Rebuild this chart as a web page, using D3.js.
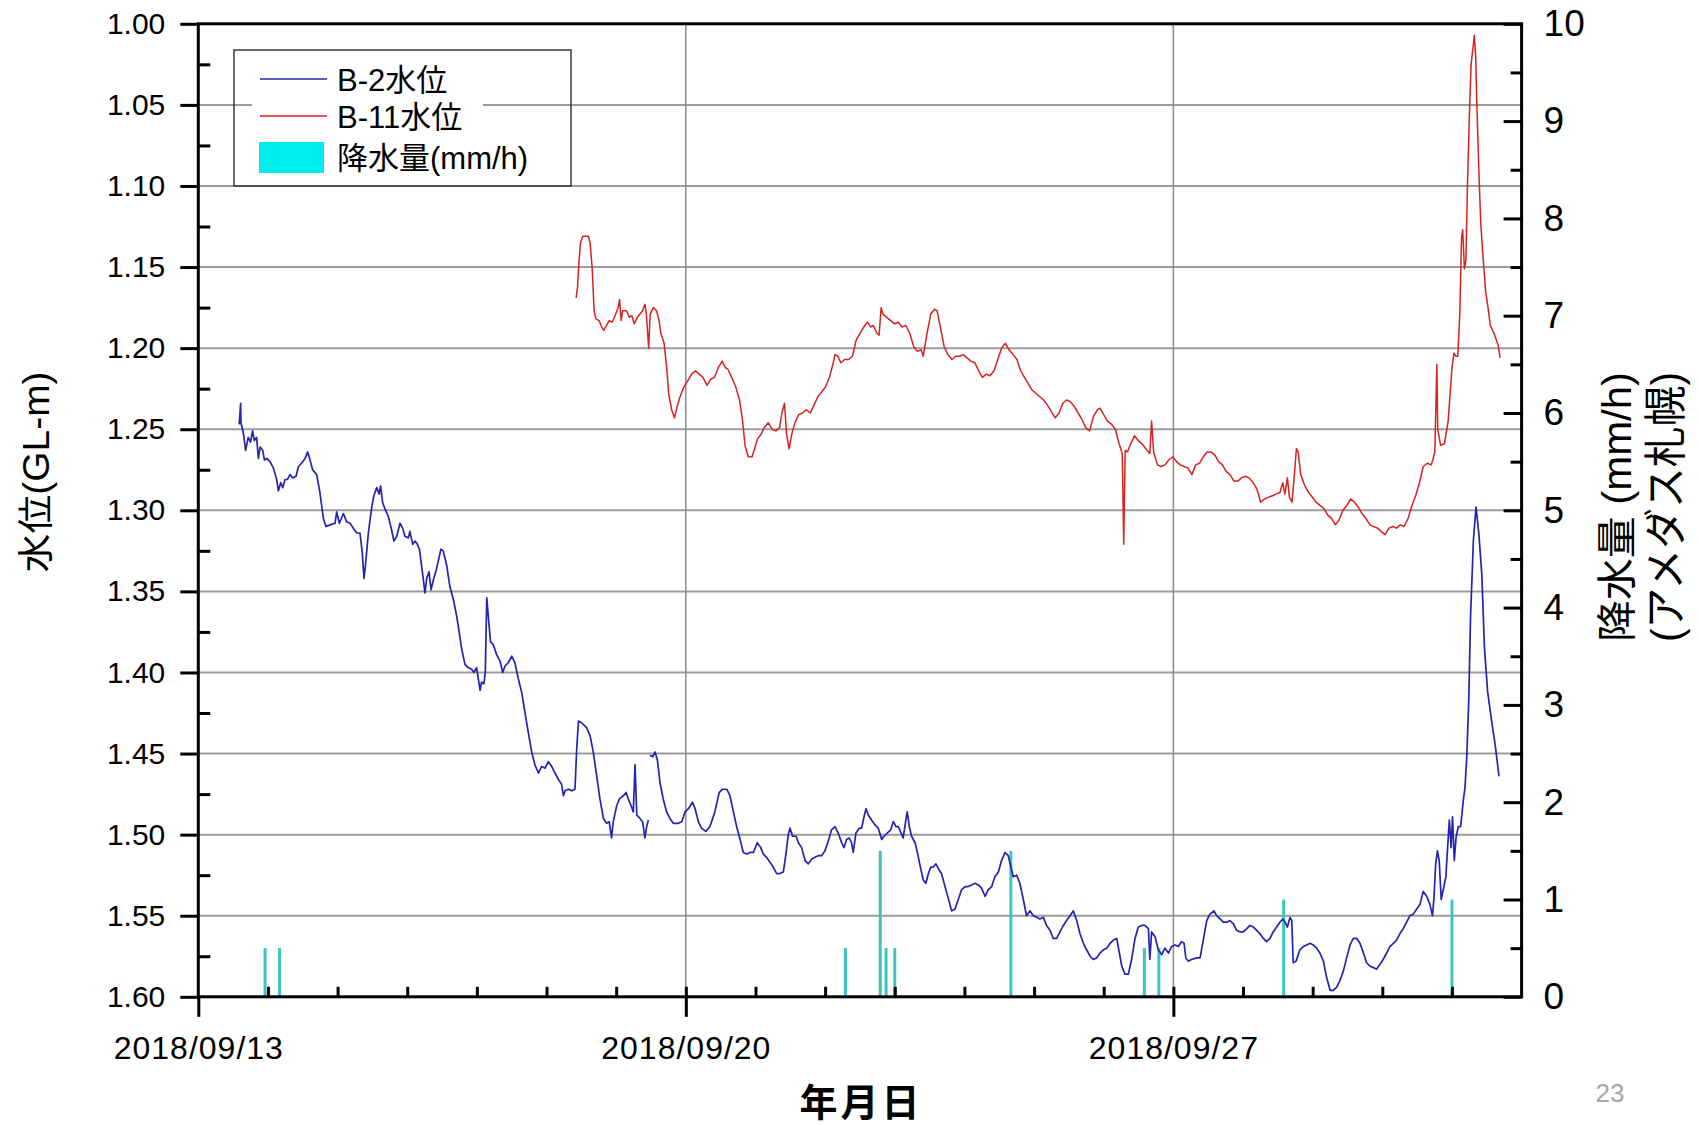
<!DOCTYPE html>
<html>
<head>
<meta charset="utf-8">
<script src="https://cdn.jsdelivr.net/npm/d3@7"></script>
<style>
  html, body { margin: 0; padding: 0; background: #fff; }
  svg { display: block; }
  text { font-family: "Liberation Sans", Arial, "Noto Sans CJK JP", sans-serif; }
</style>
</head>
<body>
<svg id="chart" width="1699" height="1125"></svg>
<script>
// ---- data ----------------------------------------------------------------
const levelTicks = [1.00, 1.05, 1.10, 1.15, 1.20, 1.25, 1.30, 1.35, 1.40, 1.45, 1.50, 1.55, 1.60];
const rainTicks = [0, 1, 2, 3, 4, 5, 6, 7, 8, 9, 10];
const dateTicks = ["2018-09-13", "2018-09-20", "2018-09-27"];
const seriesNames = ["B-2水位", "B-11水位", "降水量(mm/h)"];

// [hours since 2018-09-13 00:00, water level GL-m]; null marks a logging gap
const b2Readings = [
  [14.1,1.247],[14.6,1.234],[14.7,1.246],[15.5,1.252],[16.3,1.263],[17.2,1.255],[18.0,1.258],[18.7,1.251],
  [19.3,1.257],[20.1,1.255],[20.7,1.268],[21.3,1.261],[22.2,1.263],[22.8,1.269],[23.6,1.268],[24.7,1.270],
  [25.9,1.274],[27.0,1.281],[27.6,1.288],[28.4,1.283],[29.1,1.286],[29.9,1.281],[30.7,1.281],[31.6,1.278],
  [32.5,1.280],[33.7,1.279],[34.5,1.273],[35.6,1.271],[36.8,1.268],[37.7,1.264],[38.5,1.269],[39.4,1.275],
  [40.8,1.278],[41.9,1.289],[43.1,1.305],[44.0,1.310],[45.4,1.309],[47.1,1.308],[47.7,1.301],[48.6,1.308],
  [50.0,1.302],[51.1,1.307],[52.3,1.308],[53.4,1.311],[54.6,1.314],[55.7,1.314],[56.5,1.326],[57.1,1.342],
  [57.6,1.334],[58.6,1.314],[59.7,1.299],[60.5,1.291],[61.5,1.286],[62.3,1.290],[62.8,1.285],[63.5,1.295],
  [64.3,1.299],[65.5,1.304],[66.6,1.312],[67.4,1.319],[68.4,1.316],[69.5,1.308],[70.4,1.311],[71.2,1.316],
  [72.4,1.317],[72.9,1.313],[73.9,1.321],[74.7,1.319],[75.5,1.321],[76.2,1.324],[77.0,1.335],[77.5,1.342],
  [78.1,1.351],[78.7,1.342],[79.5,1.338],[80.2,1.349],[81.0,1.343],[82.1,1.336],[83.1,1.328],[83.6,1.324],
  [84.4,1.325],[85.6,1.334],[86.7,1.347],[87.9,1.355],[89.0,1.365],[89.9,1.375],[90.8,1.386],[91.9,1.395],
  [93.0,1.397],[94.2,1.398],[95.0,1.400],[95.9,1.397],[96.5,1.404],[97.1,1.411],[97.6,1.406],[98.4,1.407],
  [98.9,1.400],[99.4,1.354],[100.1,1.369],[100.7,1.381],[101.7,1.383],[102.8,1.389],[104.0,1.393],[104.9,1.400],
  [105.7,1.396],[106.8,1.394],[108.0,1.390],[109.1,1.394],[110.3,1.404],[111.4,1.412],[112.6,1.425],[113.7,1.437],
  [114.9,1.449],[116.0,1.457],[117.2,1.462],[118.3,1.458],[119.5,1.459],[120.6,1.455],[121.8,1.458],[122.9,1.462],
  [124.1,1.466],[125.2,1.469],[125.8,1.476],[126.4,1.473],[127.5,1.472],[128.7,1.473],[129.8,1.472],[130.4,1.447],
  [131.0,1.430],[132.1,1.431],[133.8,1.434],[135.0,1.439],[136.1,1.449],[137.3,1.464],[138.4,1.478],[139.6,1.490],
  [140.7,1.493],[141.6,1.492],[142.4,1.502],[143.0,1.492],[144.2,1.482],[145.1,1.478],[146.5,1.476],[147.4,1.474],
  [148.2,1.478],[149.1,1.482],[149.9,1.486],[150.5,1.457],[151.1,1.488],[152.2,1.490],[153.1,1.492],[153.9,1.502],
  [154.5,1.495],[155.1,1.491],[155.3,null],
  [155.6,1.451],[156.6,1.452],[157.4,1.449],[158.2,1.454],[159.1,1.468],[160.2,1.478],[161.4,1.486],[162.5,1.490],
  [163.7,1.493],[165.4,1.493],[166.6,1.492],[167.7,1.486],[168.9,1.484],[170.3,1.480],[171.2,1.484],[172.3,1.492],
  [173.4,1.496],[174.9,1.498],[176.3,1.495],[178.0,1.486],[179.5,1.474],
  [180.7,1.472],[182.1,1.472],[183.2,1.476],[184.4,1.486],[185.5,1.495],[186.7,1.503],[187.8,1.511],[189.0,1.512],
  [190.1,1.511],[191.3,1.511],[192.6,1.505],[193.8,1.508],[194.7,1.512],[195.8,1.514],[197.0,1.517],[198.1,1.520],
  [199.3,1.524],[200.4,1.524],[201.6,1.523],[202.5,1.512],[203.3,1.500],[203.9,1.496],[204.8,1.501],[206.0,1.501],
  [206.8,1.505],[207.9,1.508],[209.1,1.516],[210.2,1.518],[211.4,1.515],[212.5,1.514],[213.6,1.513],[214.8,1.513],
  [215.9,1.510],[217.1,1.504],[218.2,1.497],[219.4,1.495],[220.5,1.499],[221.7,1.505],[222.5,1.508],[223.4,1.503],
  [224.3,1.502],[225.1,1.505],[225.7,1.511],[226.6,1.499],[227.8,1.496],[228.6,1.496],[229.4,1.489],[230.1,1.484],
  [230.9,1.488],[232.0,1.491],[233.2,1.494],[234.3,1.496],[235.5,1.503],[236.3,1.501],[237.4,1.499],[238.6,1.497],
  [239.5,1.492],[240.4,1.495],[241.2,1.495],[242.4,1.500],[242.9,1.502],[243.9,1.490],[244.3,1.486],[245.0,1.495],
  [245.8,1.501],[247.0,1.505],[247.8,1.511],[248.7,1.519],[249.8,1.528],[250.7,1.530],[251.6,1.524],[252.4,1.520],
  [253.3,1.520],[254.2,1.518],[255.0,1.521],[256.1,1.524],[257.3,1.532],[258.4,1.539],[259.6,1.547],[260.7,1.546],
  [261.9,1.540],[263.0,1.534],[264.2,1.532],[265.3,1.532],[266.5,1.531],[267.6,1.530],[268.8,1.531],[269.9,1.533],
  [271.1,1.538],[272.2,1.534],[273.4,1.532],[274.5,1.526],[275.7,1.523],[276.8,1.516],[278.0,1.511],[279.1,1.513],
  [279.9,1.519],[280.8,1.526],[282.0,1.525],[283.1,1.530],[284.3,1.540],[285.4,1.550],[286.6,1.547],[287.7,1.550],
  [288.9,1.551],[290.0,1.552],[291.2,1.551],[292.3,1.556],[293.5,1.559],[294.6,1.564],[295.8,1.564],[296.9,1.560],
  [298.1,1.556],[299.2,1.553],[300.4,1.550],[301.5,1.547],[302.7,1.553],[303.8,1.561],[305.0,1.567],[306.1,1.571],
  [307.3,1.575],[308.4,1.577],[309.6,1.576],[310.7,1.573],[311.9,1.571],[313.0,1.570],[314.2,1.567],[315.3,1.565],
  [316.5,1.564],[317.4,1.573],[318.2,1.581],[319.3,1.586],[320.5,1.586],[321.6,1.577],[322.8,1.564],[323.9,1.557],
  [325.1,1.556],[326.2,1.556],[327.4,1.558],[327.9,1.577],[328.5,1.560],[329.7,1.563],[330.8,1.571],[332.0,1.574],
  [333.1,1.570],[334.3,1.573],[335.4,1.569],[336.6,1.568],[337.7,1.569],[338.8,1.566],[339.7,1.567],[340.3,1.576],
  [341.1,1.578],[342.3,1.577],[344.0,1.576],[345.2,1.576],[346.3,1.565],[347.5,1.553],[348.6,1.549],[350.0,1.547],
  [350.9,1.550],[352.1,1.552],[353.2,1.554],[354.4,1.554],[355.5,1.553],[356.7,1.555],[357.8,1.559],[359.0,1.560],
  [360.1,1.560],[361.3,1.558],[362.4,1.556],[363.6,1.557],[364.7,1.559],[365.8,1.561],[367.0,1.564],[368.1,1.566],
  [369.3,1.564],[370.4,1.560],[371.6,1.557],[372.7,1.554],[373.7,1.552],[374.5,1.554],[375.3,1.557],[376.2,1.551],
  [376.8,1.553],[377.3,1.579],[378.3,1.578],[379.6,1.571],[380.8,1.569],[381.9,1.568],[383.1,1.567],[384.2,1.568],
  [385.4,1.570],[386.5,1.573],[387.7,1.578],[388.8,1.588],[390.0,1.596],[391.1,1.596],[392.3,1.594],[393.4,1.590],
  [394.6,1.584],[395.7,1.576],[396.9,1.568],[398.0,1.564],[399.2,1.564],[400.3,1.567],[401.5,1.573],[402.6,1.579],
  [403.7,1.581],[404.9,1.582],[406.0,1.583],[407.2,1.580],[408.3,1.577],[409.5,1.573],[410.6,1.569],[411.8,1.567],
  [412.9,1.565],[414.1,1.561],[415.2,1.558],[416.4,1.554],[417.5,1.550],[418.7,1.549],[419.8,1.546],[421.0,1.543],
  [422.1,1.535],[423.3,1.538],[424.4,1.543],[425.3,1.550],[425.8,1.539],[426.4,1.518],[427.0,1.510],[427.6,1.516],
  [428.3,1.540],[429.0,1.534],[429.9,1.526],[430.5,1.508],[431.1,1.491],[431.7,1.508],[432.2,1.489],[432.8,1.516],
  [433.4,1.502],[434.2,1.495],[435.0,1.495],[435.9,1.479],[436.5,1.471],[437.1,1.452],[437.8,1.417],[438.4,1.366],
  [439.4,1.318],[440.3,1.298],[441.3,1.315],[442.3,1.340],[443.2,1.385],[444.3,1.412],[445.6,1.429],[447.0,1.446],
  [448.2,1.464]
];

const b11Readings = [
  [130.2,1.169],[130.7,1.162],[131.2,1.146],[131.7,1.135],[132.5,1.131],[133.3,1.131],[134.4,1.131],[135.0,1.135],
  [135.7,1.150],[136.4,1.177],[137.0,1.182],[138.1,1.183],[139.0,1.187],[139.7,1.189],[140.7,1.186],[141.6,1.183],
  [142.6,1.184],[143.6,1.180],[144.7,1.175],[145.2,1.170],[145.7,1.183],[146.2,1.177],[147.6,1.177],[148.5,1.181],
  [149.4,1.180],[150.2,1.185],[151.3,1.181],[152.2,1.179],[153.1,1.177],[153.9,1.173],[154.4,1.179],[155.2,1.200],
  [155.7,1.179],[156.8,1.175],[157.9,1.177],[158.8,1.183],[159.4,1.191],[160.5,1.197],[161.4,1.212],[162.1,1.228],
  [163.1,1.238],[164.1,1.243],[165.0,1.236],[166.0,1.230],[167.3,1.224],[168.7,1.220],[170.0,1.216],[171.3,1.214],
  [172.6,1.216],[173.9,1.218],[175.3,1.223],[176.6,1.219],[177.9,1.218],[179.2,1.212],[180.5,1.208],[181.6,1.212],
  [182.5,1.213],[183.8,1.218],[185.2,1.224],[186.5,1.232],[187.5,1.244],[188.4,1.260],[189.5,1.267],[190.8,1.267],
  [191.7,1.262],[192.7,1.256],[194.0,1.253],[195.0,1.249],[196.4,1.246],[197.7,1.250],[199.0,1.251],[200.3,1.249],
  [201.1,1.240],[202.0,1.234],[202.7,1.253],[203.6,1.262],[204.5,1.253],[205.6,1.246],[206.9,1.241],[208.2,1.240],
  [209.5,1.238],[210.9,1.240],[212.2,1.235],[213.5,1.230],[214.8,1.227],[216.1,1.224],[217.5,1.218],[218.8,1.209],
  [219.4,1.204],[220.4,1.205],[221.4,1.209],[222.7,1.207],[224.1,1.207],[225.4,1.205],[226.7,1.195],[228.0,1.191],
  [229.3,1.187],[230.6,1.184],[231.7,1.187],[232.6,1.186],[233.9,1.191],[234.6,1.192],[235.3,1.175],[235.9,1.179],
  [237.2,1.181],[238.6,1.183],[239.9,1.185],[241.2,1.184],[242.5,1.187],[243.8,1.186],[245.2,1.191],[246.5,1.199],
  [247.8,1.202],[249.1,1.201],[249.8,1.205],[251.1,1.191],[252.4,1.179],[253.7,1.176],[254.6,1.177],[255.7,1.187],
  [257.0,1.199],[258.3,1.204],[259.7,1.207],[261.0,1.205],[262.3,1.205],[263.6,1.204],[264.9,1.206],[266.2,1.208],
  [267.6,1.209],[268.9,1.214],[270.2,1.218],[271.5,1.216],[272.8,1.217],[274.2,1.214],[275.5,1.207],[276.8,1.200],
  [278.1,1.197],[279.4,1.201],[280.8,1.204],[282.1,1.207],[283.4,1.214],[284.7,1.218],[286.0,1.222],[287.4,1.226],
  [288.7,1.228],[290.0,1.230],[291.3,1.232],[292.6,1.235],[293.9,1.239],[295.3,1.243],[296.6,1.240],[297.9,1.234],
  [299.2,1.232],[300.5,1.233],[301.9,1.236],[303.2,1.240],[304.5,1.244],[305.8,1.249],[307.1,1.251],[308.5,1.242],
  [309.8,1.238],[310.7,1.237],[312.0,1.241],[313.3,1.245],[314.7,1.247],[316.0,1.250],[317.3,1.259],[318.4,1.265],
  [318.9,1.321],[319.4,1.263],[320.2,1.264],[321.3,1.259],[322.6,1.254],[323.9,1.257],[325.2,1.259],[326.5,1.262],
  [327.9,1.265],[328.5,1.245],[329.2,1.264],[330.5,1.272],[331.8,1.273],[333.1,1.272],[334.4,1.269],[335.8,1.267],
  [337.1,1.270],[338.4,1.272],[339.7,1.273],[341.0,1.274],[342.4,1.278],[343.7,1.272],[345.0,1.271],[346.3,1.267],
  [347.6,1.264],[348.9,1.264],[350.3,1.266],[351.6,1.270],[352.9,1.272],[354.2,1.276],[355.5,1.278],[356.9,1.282],
  [358.2,1.282],[359.5,1.280],[360.8,1.279],[362.1,1.280],[363.5,1.283],[364.8,1.287],[366.1,1.295],[367.4,1.293],
  [368.7,1.292],[370.1,1.291],[371.4,1.290],[372.7,1.289],[373.7,1.283],[374.4,1.290],[375.3,1.280],[376.0,1.292],
  [376.9,1.295],[377.7,1.278],[378.4,1.262],[379.0,1.264],[379.9,1.278],[381.3,1.285],[382.6,1.289],[383.9,1.292],
  [385.2,1.295],[386.5,1.297],[387.9,1.299],[389.2,1.303],[390.5,1.305],[391.8,1.309],[393.1,1.306],[394.4,1.300],
  [395.8,1.297],[397.1,1.293],[398.4,1.295],[399.7,1.298],[401.0,1.302],[402.4,1.305],[403.7,1.309],[405.0,1.310],
  [406.3,1.311],[407.6,1.313],[409.0,1.315],[410.3,1.311],[411.6,1.310],[412.9,1.311],[414.2,1.309],[415.5,1.310],
  [416.9,1.305],[418.2,1.297],[419.5,1.291],[420.8,1.283],[422.1,1.273],[423.5,1.271],[424.8,1.272],[425.4,1.269],
  [426.1,1.264],[426.8,1.210],[427.1,1.250],[428.1,1.260],[429.4,1.259],[430.7,1.245],[432.0,1.212],[432.7,1.203],
  [433.3,1.205],[434.0,1.205],[434.7,1.179],[435.3,1.132],[435.7,1.127],[436.3,1.151],[436.8,1.146],[437.3,1.103],
  [438.0,1.056],[438.6,1.025],[439.3,1.014],[439.7,1.007],[440.2,1.021],[440.6,1.051],[441.3,1.092],[441.9,1.122],
  [442.6,1.141],[443.6,1.165],[444.6,1.177],[445.2,1.186],[446.5,1.191],[447.9,1.198],[448.6,1.206]
];

// hourly precipitation, AMeDAS Sapporo (mm/h)
const rainTimes  = ["2018-09-13 23:00", "2018-09-14 04:00", "2018-09-22 07:00", "2018-09-22 19:00",
                    "2018-09-22 21:00", "2018-09-23 00:00", "2018-09-24 16:00", "2018-09-26 14:00",
                    "2018-09-26 19:00", "2018-09-28 14:00", "2018-10-01 00:00"];
const rainValues = [0.5, 0.5, 0.5, 1.5, 0.5, 0.5, 1.5, 0.5, 0.5, 1.0, 1.0];

// ---- layout --------------------------------------------------------------
const svg = d3.select("#chart");
const plot = { left: 198.3, right: 1521.6, top: 23.8, bottom: 996.8 };
const parseDay = d3.timeParse("%Y-%m-%d");
const parseHour = d3.timeParse("%Y-%m-%d %H:%M");
const start = parseDay("2018-09-13");
const end = parseDay("2018-10-02");
const atHour = h => new Date(start.getTime() + h * 3600e3);

const x = d3.scaleTime().domain([start, end]).range([plot.left, plot.right]);
const yL = d3.scaleLinear().domain([1.00, 1.60]).range([plot.top, plot.bottom]);
const yR = d3.scaleLinear().domain([0, 10]).range([plot.bottom, plot.top]);

const majorDates = dateTicks.map(parseDay);
const blue = "#2424b0", red = "#d82222", rainFill = "#3cc4c4";

// grid
svg.append("g").selectAll("line")
  .data(levelTicks.slice(1, -1)).join("line")
  .attr("x1", plot.left).attr("x2", plot.right)
  .attr("y1", d => yL(d)).attr("y2", d => yL(d))
  .attr("stroke", "#9c9c9c").attr("stroke-width", 2);
svg.append("g").selectAll("line")
  .data(majorDates.slice(1)).join("line")
  .attr("x1", d => x(d)).attr("x2", d => x(d))
  .attr("y1", plot.top).attr("y2", plot.bottom)
  .attr("stroke", "#8c8c8c").attr("stroke-width", 1.5);

// rain bars
const rain = rainTimes.map((t, i) => ({ t: parseHour(t), v: rainValues[i] }));
svg.append("g").selectAll("rect")
  .data(rain).join("rect")
  .attr("x", d => x(d.t) - 1.5).attr("width", 3)
  .attr("y", d => yR(d.v)).attr("height", d => yR(0) - yR(d.v))
  .attr("fill", rainFill);

// water-level lines
const line = d3.line()
  .defined(d => d[1] !== null)
  .x(d => x(atHour(d[0])))
  .y(d => yL(d[1]));
svg.append("path").datum(b11Readings)
  .attr("d", line).attr("fill", "none").attr("stroke", red)
  .attr("stroke-width", 1.5).attr("stroke-linejoin", "round");
svg.append("path").datum(b2Readings)
  .attr("d", line).attr("fill", "none").attr("stroke", blue)
  .attr("stroke-width", 1.7).attr("stroke-linejoin", "round");

// axes
function styleAxis(g, size) {
  g.select(".domain").remove();
  g.selectAll(".tick line").attr("stroke", "#000").attr("stroke-width", 3);
  g.selectAll(".tick text").attr("fill", "#000").attr("font-size", size)
    .attr("font-family", "'Liberation Sans', Arial, sans-serif");
}
const minorLevels = d3.range(0, 12).map(i => 1.025 + i * 0.05);
svg.append("g").attr("transform", `translate(${plot.left},0)`)
  .call(d3.axisLeft(yL).tickValues(levelTicks).tickFormat(d3.format(".2f"))
    .tickSize(18).tickPadding(15))
  .call(g => styleAxis(g, 30));
svg.append("g").attr("transform", `translate(${plot.left},0)`)
  .call(d3.axisRight(yL).tickValues(minorLevels).tickFormat("").tickSize(12))
  .call(g => styleAxis(g, 0));

const days = d3.timeDay.range(d3.timeDay.offset(start, 1), end);
svg.append("g").attr("transform", `translate(0,${plot.bottom})`)
  .call(d3.axisBottom(x).tickValues(majorDates).tickFormat(d3.timeFormat("%Y/%m/%d"))
    .tickSize(20).tickPadding(19))
  .call(g => styleAxis(g, 32))
  .call(g => g.selectAll(".tick text").attr("letter-spacing", 1));
svg.append("g").attr("transform", `translate(0,${plot.bottom})`)
  .call(d3.axisTop(x).tickValues(days).tickFormat("").tickSize(10))
  .call(g => styleAxis(g, 0));

const halfRain = d3.range(0, 10).map(i => i + 0.5);
svg.append("g").attr("transform", `translate(${plot.right},0)`)
  .call(d3.axisRight(yR).tickValues(rainTicks).tickSizeInner(-18).tickSizeOuter(0).tickPadding(22))
  .call(g => styleAxis(g, 37));
svg.append("g").attr("transform", `translate(${plot.right},0)`)
  .call(d3.axisLeft(yR).tickValues(halfRain).tickFormat("").tickSize(11))
  .call(g => styleAxis(g, 0));

// frame
svg.append("rect")
  .attr("x", plot.left).attr("y", plot.top)
  .attr("width", plot.right - plot.left).attr("height", plot.bottom - plot.top)
  .attr("fill", "none").attr("stroke", "#000").attr("stroke-width", 3);

// legend
const cjk = "'Liberation Sans', Arial, 'Noto Sans CJK JP', sans-serif";
const legend = svg.append("g");
legend.append("rect").attr("x", 252).attr("y", 52).attr("width", 231).attr("height", 131).attr("fill", "#fff");
legend.append("rect").attr("x", 234).attr("y", 50).attr("width", 337).attr("height", 136)
  .attr("fill", "none").attr("stroke", "#3a3a3a").attr("stroke-width", 1.5);
const legendRows = [
  { name: seriesNames[0], y: 79, kind: "line", color: blue },
  { name: seriesNames[1], y: 116, kind: "line", color: red },
  { name: seriesNames[2], y: 157, kind: "box", color: "#00eeee" }
];
legendRows.forEach(r => {
  if (r.kind === "line") {
    legend.append("line").attr("x1", 260).attr("x2", 327).attr("y1", r.y).attr("y2", r.y)
      .attr("stroke", r.color).attr("stroke-width", 1.6);
  } else {
    legend.append("rect").attr("x", 259).attr("y", r.y - 15).attr("width", 65).attr("height", 31)
      .attr("fill", r.color);
  }
  legend.append("text").attr("x", 337).attr("y", r.y + 12)
    .attr("font-size", 31).attr("font-family", cjk).attr("fill", "#000").text(r.name);
});

// axis titles
svg.append("text").attr("transform", "translate(49,472) rotate(-90)")
  .attr("text-anchor", "middle").attr("font-size", 36).attr("font-family", cjk)
  .attr("textLength", 201).attr("lengthAdjust", "spacingAndGlyphs")
  .text("水位(GL-m)");
svg.append("text").attr("transform", "translate(1631,507) rotate(-90)")
  .attr("text-anchor", "middle").attr("font-size", 40).attr("font-family", cjk)
  .attr("textLength", 270).attr("lengthAdjust", "spacingAndGlyphs")
  .text("降水量 (mm/h)");
svg.append("text").attr("transform", "translate(1681,507) rotate(-90)")
  .attr("text-anchor", "middle").attr("font-size", 43).attr("font-family", cjk)
  .attr("textLength", 270).attr("lengthAdjust", "spacingAndGlyphs")
  .text("(アメダス札幌)");
svg.append("text").attr("x", 861).attr("y", 1116)
  .attr("text-anchor", "middle").attr("font-size", 38).attr("font-weight", "bold")
  .attr("letter-spacing", 3).attr("font-family", "'Noto Sans CJK JP', sans-serif")
  .text("年月日");

// page number
svg.append("text").attr("x", 1610).attr("y", 1102)
  .attr("text-anchor", "middle").attr("font-size", 26).attr("fill", "#a6a6a6")
  .attr("font-family", "'Open Sans', sans-serif").text("23");
</script>
</body>
</html>
